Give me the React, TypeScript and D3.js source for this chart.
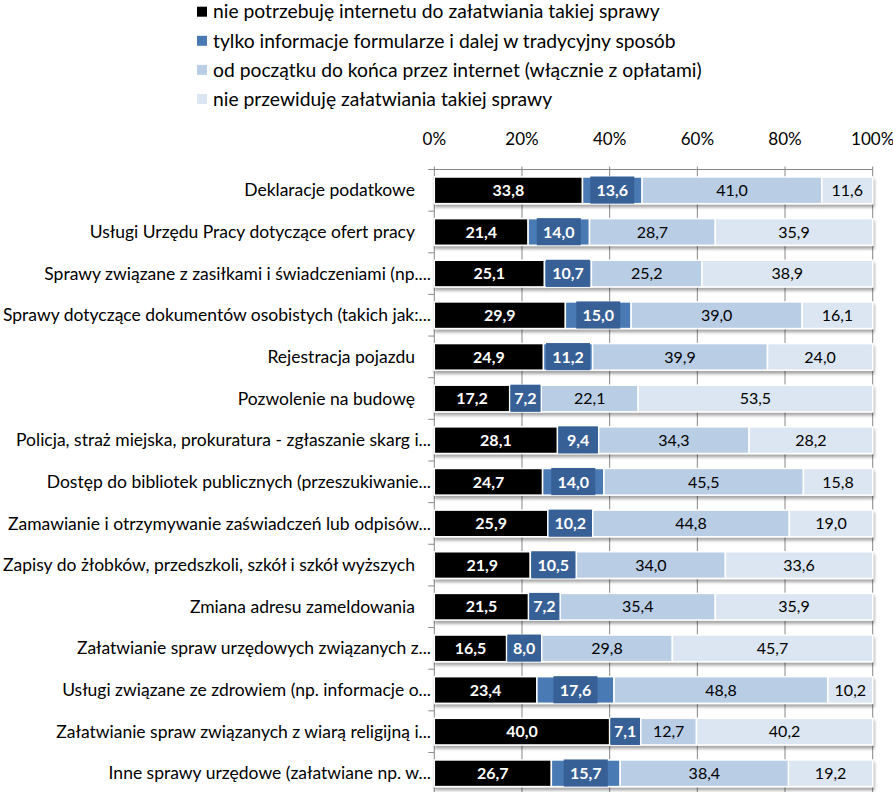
import React from "react";
import * as d3 from "d3";

const categories = [
  "Deklaracje podatkowe",
  "Usługi Urzędu Pracy dotyczące ofert pracy",
  "Sprawy związane z zasiłkami i świadczeniami (np....",
  "Sprawy dotyczące dokumentów osobistych (takich jak:...",
  "Rejestracja pojazdu",
  "Pozwolenie na budowę",
  "Policja, straż miejska, prokuratura - zgłaszanie skarg i...",
  "Dostęp do bibliotek publicznych (przeszukiwanie...",
  "Zamawianie i otrzymywanie zaświadczeń lub odpisów...",
  "Zapisy do żłobków, przedszkoli, szkół i szkół wyższych",
  "Zmiana adresu zameldowania",
  "Załatwianie spraw urzędowych związanych z...",
  "Usługi związane ze zdrowiem (np. informacje o...",
  "Załatwianie spraw związanych z wiarą religijną i...",
  "Inne sprawy urzędowe (załatwiane np. w...",
];

const seriesNames = [
  "nie potrzebuję internetu do załatwiania takiej sprawy",
  "tylko informacje formularze i dalej w tradycyjny sposób",
  "od początku do końca przez internet (włącznie z opłatami)",
  "nie przewiduję załatwiania takiej sprawy",
];

const noNeed = [33.8, 21.4, 25.1, 29.9, 24.9, 17.2, 28.1, 24.7, 25.9, 21.9, 21.5, 16.5, 23.4, 40.0, 26.7];
const infoOnly = [13.6, 14.0, 10.7, 15.0, 11.2, 7.2, 9.4, 14.0, 10.2, 10.5, 7.2, 8.0, 17.6, 7.1, 15.7];
const fullOnline = [41.0, 28.7, 25.2, 39.0, 39.9, 22.1, 34.3, 45.5, 44.8, 34.0, 35.4, 29.8, 48.8, 12.7, 38.4];
const notPlanned = [11.6, 35.9, 38.9, 16.1, 24.0, 53.5, 28.2, 15.8, 19.0, 33.6, 35.9, 45.7, 10.2, 40.2, 19.2];

const tickValues = [0, 20, 40, 60, 80, 100];

const colors = ["#000000", "#4a7ab4", "#b9cde5", "#dce6f2"];
const labelColors = ["#ffffff", "#ffffff", "#000000", "#000000"];
const labelBoxColor = "#376096";

const FONT = "Lato, 'Open Sans', sans-serif";

export default function App() {
  const W = 893;
  const H = 792;
  const x0 = 434.3;
  const x1 = 872.7;
  const yTop = 169.5;
  const step = 41.64;

  const x = d3.scaleLinear().domain([0, 100]).range([x0, x1]);
  const y = d3
    .scaleBand<string>()
    .domain(categories)
    .range([yTop, yTop + step * categories.length])
    .paddingInner(0.36)
    .paddingOuter(0.18);

  const seriesArrays = [noNeed, infoOnly, fullOnline, notPlanned];
  const rows = categories.map((c, i) => {
    const vals = seriesArrays.map((s) => s[i]);
    const total = d3.sum(vals);
    let acc = 0;
    const segs = vals.map((v, k) => {
      const start = (acc / total) * 100;
      acc += v;
      const end = (acc / total) * 100;
      return { k, v, start, end };
    });
    return { c, segs };
  });

  const bandTop = (c: string) => y(c)! - (y.step() * y.paddingInner()) / 2;
  const yBottom = yTop + step * categories.length;

  return (
    <svg
      width={W}
      height={H}
      style={{ position: "absolute", left: 0, top: 0, background: "#fff" }}
      fontFamily={FONT}
    >
      <defs>
        <filter id="sh" x="-5%" y="-30%" width="110%" height="180%">
          <feDropShadow dx="1" dy="3" stdDeviation="1.6" floodColor="#000" floodOpacity="0.35" />
        </filter>
      </defs>

      {/* legend */}
      {seriesNames.map((s, i) => (
        <g key={s} transform={`translate(197, ${11.7 + i * 29.1})`}>
          <rect x={0} y={-5} width={10} height={10} fill={colors[i]} />
          <text x={16} y={0} dy="0.35em" fontSize={19.3} fill="#000">
            {s}
          </text>
        </g>
      ))}

      {/* tick labels */}
      {tickValues.map((t) => (
        <text key={t} x={x(t)} y={139.3} dy="0.35em" textAnchor="middle" fontSize={17} fill="#000">
          {t}%
        </text>
      ))}

      {/* gridlines */}
      {tickValues.map((t) => (
        <line key={t} x1={x(t)} x2={x(t)} y1={yTop - 3} y2={yBottom} stroke="#878787" strokeWidth={1} />
      ))}
      <line x1={x0 - 6} x2={x1} y1={yTop} y2={yTop} stroke="#878787" strokeWidth={1} />
      {categories.map((c, i) =>
        i === 0 ? null : (
          <line key={c} x1={x0 - 6} x2={x0} y1={bandTop(c)} y2={bandTop(c)} stroke="#878787" strokeWidth={1} />
        )
      )}

      {/* bars */}
      {rows.map((r) => (
        <g key={r.c}>
          <g filter="url(#sh)">
            {r.segs.map((s) => (
              <rect
                key={s.k}
                x={x(s.start)}
                y={y(r.c)!}
                width={x(s.end) - x(s.start)}
                height={y.bandwidth()}
                fill={colors[s.k]}
                stroke="#ffffff"
                strokeWidth={1.5}
              />
            ))}
          </g>
          {r.segs.map((s) => {
            const cx = (x(s.start) + x(s.end)) / 2;
            const cy = y(r.c)! + y.bandwidth() / 2;
            const txt = d3.format(".1f")(s.v).replace(".", ",");
            const segW = x(s.end) - x(s.start) - 1.5;
            const boxW = Math.min(44, segW);
            return (
              <g key={"l" + s.k}>
                {s.k === 1 && (
                  <rect
                    x={cx - boxW / 2}
                    y={y(r.c)! - 0.5}
                    width={boxW}
                    height={y.bandwidth() + 0.5}
                    fill={labelBoxColor}
                  />
                )}
                <text
                  x={cx}
                  y={cy}
                  dy="0.36em"
                  textAnchor="middle"
                  fontSize={16}
                  fontWeight={s.k < 2 ? 700 : 400}
                  fill={labelColors[s.k]}
                >
                  {txt}
                </text>
              </g>
            );
          })}
          <text
            x={r.c.endsWith("...") ? 431 : 415}
            y={y(r.c)! + y.bandwidth() / 2}
            dy="0.35em"
            textAnchor="end"
            fontSize={17.5}
            fill="#000"
          >
            {r.c}
          </text>
        </g>
      ))}
    </svg>
  );
}
